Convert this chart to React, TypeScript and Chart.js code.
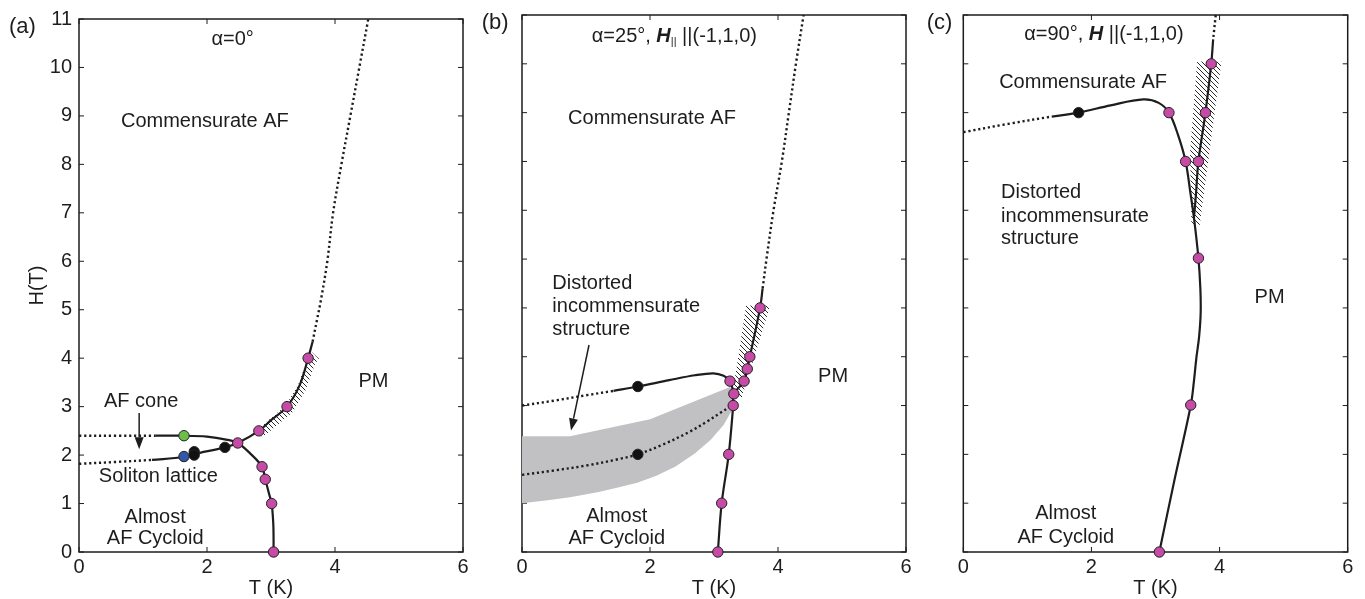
import React, { useEffect, useRef } from "react";
import { Chart, registerables } from "chart.js";

Chart.register(...registerables);

const FONT = "'Liberation Sans', Arial, Helvetica, sans-serif";
const INK = "#1d1d1d";
const MAGENTA = "#c54ba6";
const GREEN = "#6bbf48";
const BLUE = "#3456a6";
const BLACK = "#111111";
const GRAY = "#c1c1c4";

// shared tick labels
const T_TICKS = [0, 2, 4, 6];
const H_TICKS = [0, 1, 2, 3, 4, 5, 6, 7, 8, 9, 10, 11];

// ---------------- Panel (a): alpha = 0 ----------------
const aConeDotted = [[0, 2.4], [0.6, 2.4], [1.2, 2.4]];
const aConeSolid = [[1.2, 2.4], [1.64, 2.4], [2.0, 2.38], [2.3, 2.32], [2.48, 2.25], [2.67, 2.04], [2.86, 1.76], [2.91, 1.5], [2.97, 1.2], [3.01, 1.0], [3.035, 0.6], [3.04, 0.3], [3.04, 0]];
const aSolitonDotted = [[0, 1.82], [0.6, 1.86], [1.14, 1.9]];
const aSolitonSolid = [[1.14, 1.9], [1.64, 1.96], [1.8, 2.02], [2.28, 2.16], [2.48, 2.25], [2.81, 2.5], [3.0, 2.72], [3.25, 3.0], [3.45, 3.45], [3.58, 4.0], [3.65, 4.34]];
const aUpperDotted = [[3.65, 4.34], [3.72, 4.8], [3.78, 5.2], [3.88, 6], [3.97, 7], [4.1, 8], [4.24, 9], [4.38, 10], [4.52, 11]];
const aHatch = [[2.76, 2.5], [2.98, 2.74], [3.23, 3.02], [3.43, 3.47], [3.58, 4.02], [3.64, 4.12], [3.75, 3.99], [3.69, 3.89], [3.54, 3.34], [3.34, 2.89], [3.09, 2.61], [2.87, 2.37]];
const aMagenta = [[3.58, 4.0], [3.25, 3.0], [2.81, 2.5], [2.48, 2.25], [2.86, 1.76], [2.91, 1.5], [3.01, 1.0], [3.04, 0]];
const aGreen = [[1.64, 2.4]];
const aBlue = [[1.64, 1.97]];
const aBlack = [[1.8, 2.07], [1.8, 2.0], [2.28, 2.16]];

// ---------------- Panel (b): alpha = 25 ----------------
const bUpperDotted = [[0, 3.0], [0.5, 3.1], [1.0, 3.21], [1.43, 3.3]];
const bUpperSolid = [[1.43, 3.3], [1.81, 3.39], [2.3, 3.52], [2.7, 3.62], [2.99, 3.66], [3.15, 3.61], [3.25, 3.5], [3.31, 3.24]];
const bLowerDotted = [[0, 1.58], [0.5, 1.67], [1.0, 1.77], [1.5, 1.9], [1.81, 2.0], [2.2, 2.2], [2.6, 2.45], [2.9, 2.68], [3.1, 2.85], [3.3, 3.02]];
const bMainSolid = [[3.06, 0], [3.12, 1], [3.23, 2], [3.3, 3.0], [3.31, 3.24], [3.47, 3.5], [3.52, 3.75], [3.56, 4.0], [3.72, 5.0], [3.76, 5.4]];
const bUpperTail = [[3.76, 5.4], [3.82, 6], [3.93, 7], [4.06, 8], [4.17, 9], [4.28, 10], [4.4, 11]];
const bBand = [[0, 2.37], [0.75, 2.37], [2.0, 2.72], [3.25, 3.38], [3.31, 3.3], [3.3, 2.95], [3.15, 2.6], [2.95, 2.3], [2.7, 2.02], [2.4, 1.75], [2.1, 1.56], [1.8, 1.42], [1.5, 1.32], [1.2, 1.23], [0.75, 1.12], [0.4, 1.06], [0, 1.0]];
const bHatch = [[3.5, 5.05], [3.88, 5.05], [3.43, 3.15], [3.3, 3.35], [3.38, 4.0]];
const bMagenta = [[3.72, 5.0], [3.56, 4.0], [3.52, 3.75], [3.47, 3.5], [3.25, 3.5], [3.31, 3.24], [3.3, 3.0], [3.23, 2.0], [3.12, 1.0], [3.06, 0]];
const bBlack = [[1.81, 3.39], [1.81, 2.0]];

// ---------------- Panel (c): alpha = 90 ----------------
const cLeftDotted = [[0, 8.6], [0.7, 8.77], [1.38, 8.92]];
const cMainSolid = [[1.38, 8.92], [1.8, 9.0], [2.3, 9.15], [2.81, 9.27], [3.05, 9.2], [3.21, 9.0], [3.35, 8.55], [3.47, 8.0], [3.54, 7.4], [3.6, 6.85], [3.67, 6.02], [3.7, 5.4], [3.705, 4.9], [3.68, 4.4], [3.64, 4.0], [3.6, 3.5], [3.55, 3.0], [3.3, 1.5], [3.06, 0]];
const cRightSolid = [[3.9, 10.5], [3.87, 10.0], [3.78, 9.0], [3.67, 8.0], [3.63, 7.3], [3.6, 6.85]];
const cTopDotted = [[3.94, 11], [3.9, 10.5]];
const cHatch = [[3.65, 10.05], [4.03, 10.05], [3.69, 6.7], [3.56, 6.7], [3.54, 8.2]];
const cMagenta = [[3.87, 10.0], [3.78, 9.0], [3.21, 9.0], [3.47, 8.0], [3.67, 8.0], [3.67, 6.02], [3.55, 3.01], [3.06, 0]];
const cBlack = [[1.8, 9.0]];

// ---------------- Text ----------------
type Label = { text: string; x: number; y: number; align?: CanvasTextAlign };
type Seg = { t: string; style?: string; size?: number; dy?: number };

const aLabels: Label[] = [
  { text: "Commensurate AF", x: 0.656, y: 8.89 },
  { text: "AF cone", x: 0.39, y: 3.11 },
  { text: "Soliton lattice", x: 0.31, y: 1.56 },
  { text: "Almost", x: 1.19, y: 0.72, align: "center" },
  { text: "AF Cycloid", x: 1.19, y: 0.27, align: "center" },
  { text: "PM", x: 4.6, y: 3.51, align: "center" },
];
const bLabels: Label[] = [
  { text: "Commensurate AF", x: 0.72, y: 8.89 },
  { text: "Distorted", x: 0.474, y: 5.51 },
  { text: "incommensurate", x: 0.474, y: 5.02 },
  { text: "structure", x: 0.474, y: 4.55 },
  { text: "Almost", x: 1.48, y: 0.72, align: "center" },
  { text: "AF Cycloid", x: 1.48, y: 0.27, align: "center" },
  { text: "PM", x: 4.86, y: 3.6, align: "center" },
];
const cLabels: Label[] = [
  { text: "Commensurate AF", x: 0.56, y: 9.61 },
  { text: "Distorted", x: 0.59, y: 7.36 },
  { text: "incommensurate", x: 0.59, y: 6.88 },
  { text: "structure", x: 0.59, y: 6.42 },
  { text: "PM", x: 4.78, y: 5.22, align: "center" },
  { text: "Almost", x: 1.6, y: 0.78, align: "center" },
  { text: "AF Cycloid", x: 1.6, y: 0.3, align: "center" },
];
const aTitle: Seg[] = [{ t: "α=0°" }];
const bTitle: Seg[] = [{ t: "α=25°, " }, { t: "H", style: "italic bold" }, { t: "||", size: 11, dy: 6 }, { t: " ||(-1,1,0)" }];
const cTitle: Seg[] = [{ t: "α=90°, " }, { t: "H", style: "italic bold" }, { t: " ||(-1,1,0)" }];
const aArrows = [[[0.94, 2.87], [0.94, 2.12]]];
const bArrows = [[[1.047, 4.24], [0.766, 2.49]]];

type Panel = {
  tag: string;
  tagDx: number;
  title: Seg[];
  titleAt: number[];
  labels: Label[];
  arrows: number[][][];
  solid: number[][][];
  dotted: number[][][];
  hatch: number[][][];
  band: number[][][];
  marks: { data: number[][]; color: string }[];
  yWidth: number;
  padRight: number;
  showY: boolean;
};

const pts = (a: number[][]) => a.map(([x, y]) => ({ x, y }));

function hatchPattern(ctx: CanvasRenderingContext2D) {
  const s = 5;
  const c = document.createElement("canvas");
  c.width = s;
  c.height = s;
  const g = c.getContext("2d")!;
  g.strokeStyle = "#2a2a2a";
  g.lineWidth = 1;
  g.beginPath();
  g.moveTo(-1, -1);
  g.lineTo(s + 1, s + 1);
  g.moveTo(-1, s - 1);
  g.lineTo(1, s + 1);
  g.moveTo(s - 1, -1);
  g.lineTo(s + 1, 1);
  g.stroke();
  return ctx.createPattern(c, "repeat")!;
}

function buildChart(canvas: HTMLCanvasElement, p: Panel) {
  const ctx0 = canvas.getContext("2d")!;
  const pattern = hatchPattern(ctx0);
  const lineDs = (d: number[][], dotted: boolean) => ({
    data: pts(d),
    showLine: true,
    borderColor: INK,
    borderWidth: dotted ? 2.4 : 2.2,
    borderDash: dotted ? [2.2, 2.8] : [],
    pointRadius: 0,
    tension: 0.35,
    fill: false,
  });
  const markDs = (d: number[][], color: string) => ({
    data: pts(d),
    showLine: false,
    pointRadius: 5.2,
    pointBackgroundColor: color,
    pointBorderColor: "#222",
    pointBorderWidth: 1,
    clip: false,
  });
  const polyDs = (d: number[][], bg: any) => ({
    data: pts(d),
    showLine: true,
    borderWidth: 0,
    borderColor: "rgba(0,0,0,0)",
    backgroundColor: bg,
    fill: "shape",
    pointRadius: 0,
    tension: 0,
  });
  const datasets: any[] = [
    ...p.marks.map((m) => markDs(m.data, m.color)),
    ...p.solid.map((d) => lineDs(d, false)),
    ...p.dotted.map((d) => lineDs(d, true)),
    ...p.hatch.map((d) => polyDs(d, pattern)),
    ...p.band.map((d) => polyDs(d, GRAY)),
  ];

  const deco = {
    id: "deco",
    beforeDatasetsDraw(chart: any) {
      const { ctx, chartArea: ca, scales } = chart;
      const x = scales.x;
      const y = scales.y;
      ctx.save();
      ctx.strokeStyle = INK;
      ctx.lineWidth = 1;
      const L = 5;
      ctx.beginPath();
      for (const v of T_TICKS) {
        const px = x.getPixelForValue(v);
        ctx.moveTo(px, ca.bottom);
        ctx.lineTo(px, ca.bottom - L);
        ctx.moveTo(px, ca.top);
        ctx.lineTo(px, ca.top + L);
      }
      for (const v of H_TICKS) {
        const py = y.getPixelForValue(v);
        ctx.moveTo(ca.left, py);
        ctx.lineTo(ca.left + L, py);
        ctx.moveTo(ca.right, py);
        ctx.lineTo(ca.right - L, py);
      }
      ctx.stroke();
      ctx.lineWidth = 1.5;
      ctx.strokeRect(ca.left, ca.top, ca.right - ca.left, ca.bottom - ca.top);
      ctx.restore();
    },
    afterDraw(chart: any) {
      const { ctx, chartArea: ca, scales } = chart;
      const x = scales.x;
      const y = scales.y;
      ctx.save();
      ctx.fillStyle = INK;
      ctx.strokeStyle = INK;
      ctx.textBaseline = "middle";
      ctx.font = `20px ${FONT}`;
      for (const l of p.labels) {
        ctx.textAlign = l.align || "left";
        ctx.fillText(l.text, x.getPixelForValue(l.x), y.getPixelForValue(l.y));
      }
      ctx.textAlign = "left";
      let cx = x.getPixelForValue(p.titleAt[0]);
      const ty = y.getPixelForValue(p.titleAt[1]);
      for (const s of p.title) {
        ctx.font = `${s.style || ""} ${s.size || 20}px ${FONT}`;
        ctx.fillText(s.t, cx, ty + (s.dy || 0));
        cx += ctx.measureText(s.t).width;
      }
      ctx.font = `22px ${FONT}`;
      ctx.fillText(p.tag, ca.left + p.tagDx, ca.top + 8);
      for (const a of p.arrows) {
        const x1 = x.getPixelForValue(a[0][0]);
        const y1 = y.getPixelForValue(a[0][1]);
        const x2 = x.getPixelForValue(a[1][0]);
        const y2 = y.getPixelForValue(a[1][1]);
        const ang = Math.atan2(y2 - y1, x2 - x1);
        const HL = 12;
        const HW = 4.5;
        const bx = x2 - HL * Math.cos(ang);
        const by = y2 - HL * Math.sin(ang);
        ctx.lineWidth = 1.5;
        ctx.beginPath();
        ctx.moveTo(x1, y1);
        ctx.lineTo(bx, by);
        ctx.stroke();
        ctx.beginPath();
        ctx.moveTo(x2, y2);
        ctx.lineTo(bx + HW * Math.sin(ang), by - HW * Math.cos(ang));
        ctx.lineTo(bx - HW * Math.sin(ang), by + HW * Math.cos(ang));
        ctx.closePath();
        ctx.fill();
      }
      ctx.restore();
    },
  };

  return new Chart(canvas, {
    type: "scatter",
    data: { datasets },
    options: {
      animation: false,
      responsive: false,
      devicePixelRatio: 1,
      events: [],
      layout: { padding: { left: 0, top: 15, right: p.padRight, bottom: 0 } },
      plugins: { legend: { display: false }, tooltip: { enabled: false } },
      scales: {
        x: {
          type: "linear",
          min: 0,
          max: 6,
          grid: { display: false, drawTicks: false },
          border: { display: false },
          afterBuildTicks: (s: any) => {
            s.ticks = T_TICKS.map((value) => ({ value }));
          },
          ticks: { padding: 3, color: INK, font: { size: 20, family: FONT } },
          title: {
            display: true,
            text: "T (K)",
            color: INK,
            font: { size: 20, family: FONT, lineHeight: 1.1 },
            padding: { top: 0, bottom: 0 },
          },
          afterFit: (s: any) => {
            s.height = 47;
          },
        },
        y: {
          type: "linear",
          min: 0,
          max: 11,
          grid: { display: false, drawTicks: false },
          border: { display: false },
          afterBuildTicks: (s: any) => {
            s.ticks = H_TICKS.map((value) => ({ value }));
          },
          ticks: { display: p.showY, padding: 7, color: INK, font: { size: 20, family: FONT } },
          title: {
            display: p.showY,
            text: "H(T)",
            color: INK,
            font: { size: 20, family: FONT },
            padding: { top: 25, bottom: 0 },
          },
          afterFit: (s: any) => {
            s.width = p.yWidth;
          },
        },
      },
    } as any,
    plugins: [deco],
  });
}

const panelA: Panel = {
  tag: "(a)",
  tagDx: -70,
  title: aTitle,
  titleAt: [2.07, 10.57],
  labels: aLabels,
  arrows: aArrows,
  solid: [aConeSolid, aSolitonSolid],
  dotted: [aConeDotted, aSolitonDotted, aUpperDotted],
  hatch: [aHatch],
  band: [],
  marks: [
    { data: aMagenta, color: MAGENTA },
    { data: aGreen, color: GREEN },
    { data: aBlue, color: BLUE },
    { data: aBlack, color: BLACK },
  ],
  yWidth: 79,
  padRight: 17,
  showY: true,
};
const panelB: Panel = {
  tag: "(b)",
  tagDx: -40.3,
  title: bTitle,
  titleAt: [1.09, 10.57],
  labels: bLabels,
  arrows: bArrows,
  solid: [bUpperSolid, bMainSolid],
  dotted: [bUpperDotted, bLowerDotted, bUpperTail],
  hatch: [bHatch],
  band: [bBand],
  marks: [
    { data: bMagenta, color: MAGENTA },
    { data: bBlack, color: BLACK },
  ],
  yWidth: 42,
  padRight: 14,
  showY: false,
};
const panelC: Panel = {
  tag: "(c)",
  tagDx: -36.6,
  title: cTitle,
  titleAt: [0.95, 10.6],
  labels: cLabels,
  arrows: [],
  solid: [cMainSolid, cRightSolid],
  dotted: [cLeftDotted, cTopDotted],
  hatch: [cHatch],
  band: [],
  marks: [
    { data: cMagenta, color: MAGENTA },
    { data: cBlack, color: BLACK },
  ],
  yWidth: 43.3,
  padRight: 17.3,
  showY: false,
};

const LAYOUT = [
  { panel: panelA, left: 0, width: 480 },
  { panel: panelB, left: 480, width: 440 },
  { panel: panelC, left: 920, width: 445 },
];

export default function App() {
  const refs = [useRef<HTMLCanvasElement>(null), useRef<HTMLCanvasElement>(null), useRef<HTMLCanvasElement>(null)];
  useEffect(() => {
    Chart.defaults.font.family = FONT;
    const charts = LAYOUT.map((l, i) => buildChart(refs[i].current!, l.panel));
    return () => charts.forEach((c) => c.destroy());
  }, []);
  return (
    <div style={{ position: "absolute", left: 0, top: 0, width: 1365, height: 599, background: "#fff" }}>
      {LAYOUT.map((l, i) => (
        <canvas
          key={i}
          ref={refs[i]}
          width={l.width}
          height={599}
          style={{ position: "absolute", left: l.left, top: 0, width: l.width, height: 599 }}
        />
      ))}
    </div>
  );
}
